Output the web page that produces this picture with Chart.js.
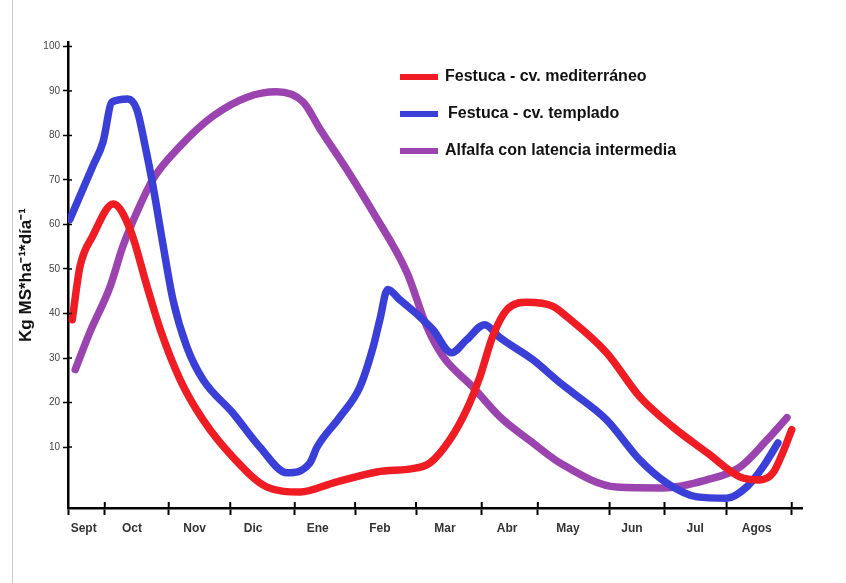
<!DOCTYPE html>
<html>
<head>
<meta charset="utf-8">
<script src="https://cdn.jsdelivr.net/npm/chart.js@4.4.1/dist/chart.umd.min.js"></script>
<style>
  html, body { margin: 0; padding: 0; background: #fff; }
  #wrap { position: relative; width: 846px; height: 583px; }
  #edge { position: absolute; left: 12px; top: 0; width: 1px; height: 583px; background: #c8c8c8; }
</style>
</head>
<body>
<div id="wrap">
  <canvas id="myChart" width="846" height="583"></canvas>
  <div id="edge"></div>
</div>
<script>
// meses (eje x)
const months = ['Sept', 'Oct', 'Nov', 'Dic', 'Ene', 'Feb', 'Mar', 'Abr', 'May', 'Jun', 'Jul', 'Agos'];
// posición de cada etiqueta y de cada marca del eje, en unidades de mes
const monthLabelAt = [0.26, 1.06, 2.1, 3.07, 4.14, 5.17, 6.25, 7.28, 8.29, 9.35, 10.4, 11.42];
const monthTickAt = [0, 0.61, 1.67, 2.69, 3.76, 4.76, 5.77, 6.86, 7.79, 8.98, 9.89, 10.92, 12];
const yTicks = [10, 20, 30, 40, 50, 60, 70, 80, 90, 100];

// Festuca - cv. mediterráneo
const medX = [0.07, 0.2, 0.41, 0.75, 1.03, 1.31, 1.53, 1.86, 2.24, 2.73, 3.3, 3.85, 4.39, 5.12, 5.78, 6.0, 6.33, 6.61, 6.83, 7.04, 7.28, 7.61, 8.04, 8.27, 8.93, 9.48, 10.03, 10.6, 11.14, 11.47, 11.69, 11.85, 12.0];
const medY = [38.6, 50.6, 57.4, 64.6, 58.9, 46.1, 36.4, 25.1, 16.1, 7.8, 1.0, -0.1, 1.9, 4.4, 5.3, 6.4, 11.6, 18.4, 25.8, 34.8, 40.9, 42.5, 41.6, 39.3, 31.2, 21.3, 14.5, 8.7, 3.3, 2.6, 4.2, 8.7, 13.9];

// Festuca - cv. templado
const tempX = [0.03, 0.41, 0.58, 0.73, 0.99, 1.14, 1.28, 1.41, 1.58, 1.74, 1.97, 2.24, 2.73, 3.18, 3.63, 4.01, 4.13, 4.51, 4.84, 5.06, 5.17, 5.3, 5.5, 5.83, 6.05, 6.36, 6.61, 6.91, 7.16, 7.71, 8.16, 8.37, 8.93, 9.48, 9.93, 10.43, 10.92, 11.25, 11.52, 11.77];
const tempY = [61.1, 73.1, 78.5, 87.5, 88.2, 85.9, 77.6, 68.6, 55.1, 43.1, 32.5, 25.1, 17.7, 10.0, 4.2, 6.4, 10.0, 16.8, 23.5, 32.5, 38.6, 45.4, 43.1, 39.3, 36.4, 31.2, 34.1, 37.5, 34.6, 29.6, 24.4, 22.2, 16.1, 7.1, 1.9, -1.2, -1.5, 1.0, 5.5, 10.9];

// Alfalfa con latencia intermedia
const alfX = [0.12, 0.36, 0.7, 0.91, 1.14, 1.41, 1.86, 2.4, 2.97, 3.46, 3.9, 4.18, 4.62, 5.06, 5.62, 5.95, 6.22, 6.71, 7.16, 7.71, 8.16, 9.1, 9.86, 10.59, 11.14, 11.59, 11.92];
const alfY = [27.4, 35.7, 46.1, 55.1, 62.7, 70.2, 77.6, 84.3, 88.6, 89.8, 87.5, 81.4, 72.4, 62.7, 49.2, 37.0, 30.3, 23.5, 16.8, 10.9, 6.4, 1.0, 0.8, 2.6, 5.5, 11.6, 16.6];

const toPoints = (xs, ys) => xs.map((x, i) => ({ x: x, y: ys[i] }));

// leyenda dibujada dentro del gráfico, arriba a la derecha
const insideLegend = {
    id: 'insideLegend',
    afterDraw(chart) {
        const c = chart.ctx;
        c.save();
        c.font = 'bold 16px "Liberation Sans", Arial, sans-serif';
        c.textBaseline = 'middle';
        chart.data.datasets.forEach((ds, i) => {
            const y = 77 + i * 37;
            c.strokeStyle = ds.borderColor;
            c.lineWidth = 6;
            c.lineCap = 'butt';
            c.beginPath();
            c.moveTo(400, y);
            c.lineTo(438, y);
            c.stroke();
            c.fillStyle = '#111';
            c.fillText(ds.label, 445 + (i === 1 ? 3 : 0), y);
        });
        c.restore();
    }
};

// las marcas de los ejes cruzan la línea del eje (parte interior)
const crossTicks = {
    id: 'crossTicks',
    afterDraw(chart) {
        const c = chart.ctx;
        const xs = chart.scales.x, ys = chart.scales.y;
        c.save();
        c.strokeStyle = '#000';
        c.lineWidth = 2;
        monthTickAt.forEach(v => {
            const px = xs.getPixelForValue(v);
            c.beginPath();
            c.moveTo(px, xs.top);
            c.lineTo(px, xs.top - 6);
            c.stroke();
        });
        c.lineWidth = 1.5;
        yTicks.forEach(v => {
            const py = ys.getPixelForValue(v);
            c.beginPath();
            c.moveTo(ys.right, py);
            c.lineTo(ys.right + 4, py);
            c.stroke();
        });
        c.restore();
    }
};

const line = (label, color, pts) => ({
    label: label,
    data: pts,
    borderColor: color,
    borderWidth: 7.5,
    pointRadius: 0,
    cubicInterpolationMode: 'monotone',
    borderCapStyle: 'round',
    borderJoinStyle: 'round',
    fill: false
});

const ctx = document.getElementById('myChart').getContext('2d');
const myChart = new Chart(ctx, {
    type: 'line',
    data: {
        datasets: [
            line('Festuca - cv. mediterráneo', '#f01c24', toPoints(medX, medY)),
            line('Festuca - cv. templado', '#3a3fd8', toPoints(tempX, tempY)),
            line('Alfalfa con latencia intermedia', '#9b44b0', toPoints(alfX, alfY))
        ]
    },
    options: {
        responsive: false,
        animation: false,
        layout: { padding: { left: 0, top: 42, right: 44, bottom: 0 } },
        plugins: {
            legend: { display: false },
            tooltip: { enabled: false }
        },
        scales: {
            x: {
                type: 'linear',
                min: 0,
                max: 12.17,
                afterBuildTicks: (scale) => {
                    const t = monthTickAt.map(v => ({ value: v, major: true }))
                        .concat(monthLabelAt.map(v => ({ value: v })));
                    scale.ticks = t.sort((a, b) => a.value - b.value);
                },
                afterFit: (scale) => { scale.height = 75; },
                border: { color: '#000', width: 2.5 },
                grid: {
                    drawOnChartArea: false,
                    tickLength: 7,
                    tickWidth: 2,
                    tickColor: (c) => (c.tick && monthTickAt.includes(c.tick.value)) ? '#000' : 'rgba(0,0,0,0)'
                },
                ticks: {
                    autoSkip: false,
                    maxRotation: 0,
                    padding: 6,
                    color: '#333',
                    font: { family: '"Liberation Sans", Arial, sans-serif', size: 12, weight: 'bold' },
                    callback: (v) => {
                        const i = monthLabelAt.indexOf(v);
                        return i >= 0 ? months[i] : '';
                    }
                }
            },
            y: {
                min: -3.7,
                max: 101,
                afterBuildTicks: (scale) => {
                    scale.ticks = yTicks.map(v => ({ value: v }));
                },
                afterFit: (scale) => { scale.width = 68; },
                border: { color: '#000', width: 2.5 },
                grid: {
                    drawOnChartArea: false,
                    tickLength: 5,
                    tickWidth: 1.5,
                    tickColor: '#000'
                },
                ticks: {
                    padding: 3,
                    color: '#444',
                    font: { family: '"Liberation Sans", Arial, sans-serif', size: 10 }
                },
                title: {
                    display: true,
                    text: 'Kg MS*ha⁻¹*día⁻¹',
                    color: '#111',
                    padding: { top: 16, bottom: 0 },
                    font: { family: '"Liberation Sans", Arial, sans-serif', size: 17, weight: 'bold' }
                }
            }
        }
    },
    plugins: [insideLegend, crossTicks]
});
</script>
</body>
</html>
